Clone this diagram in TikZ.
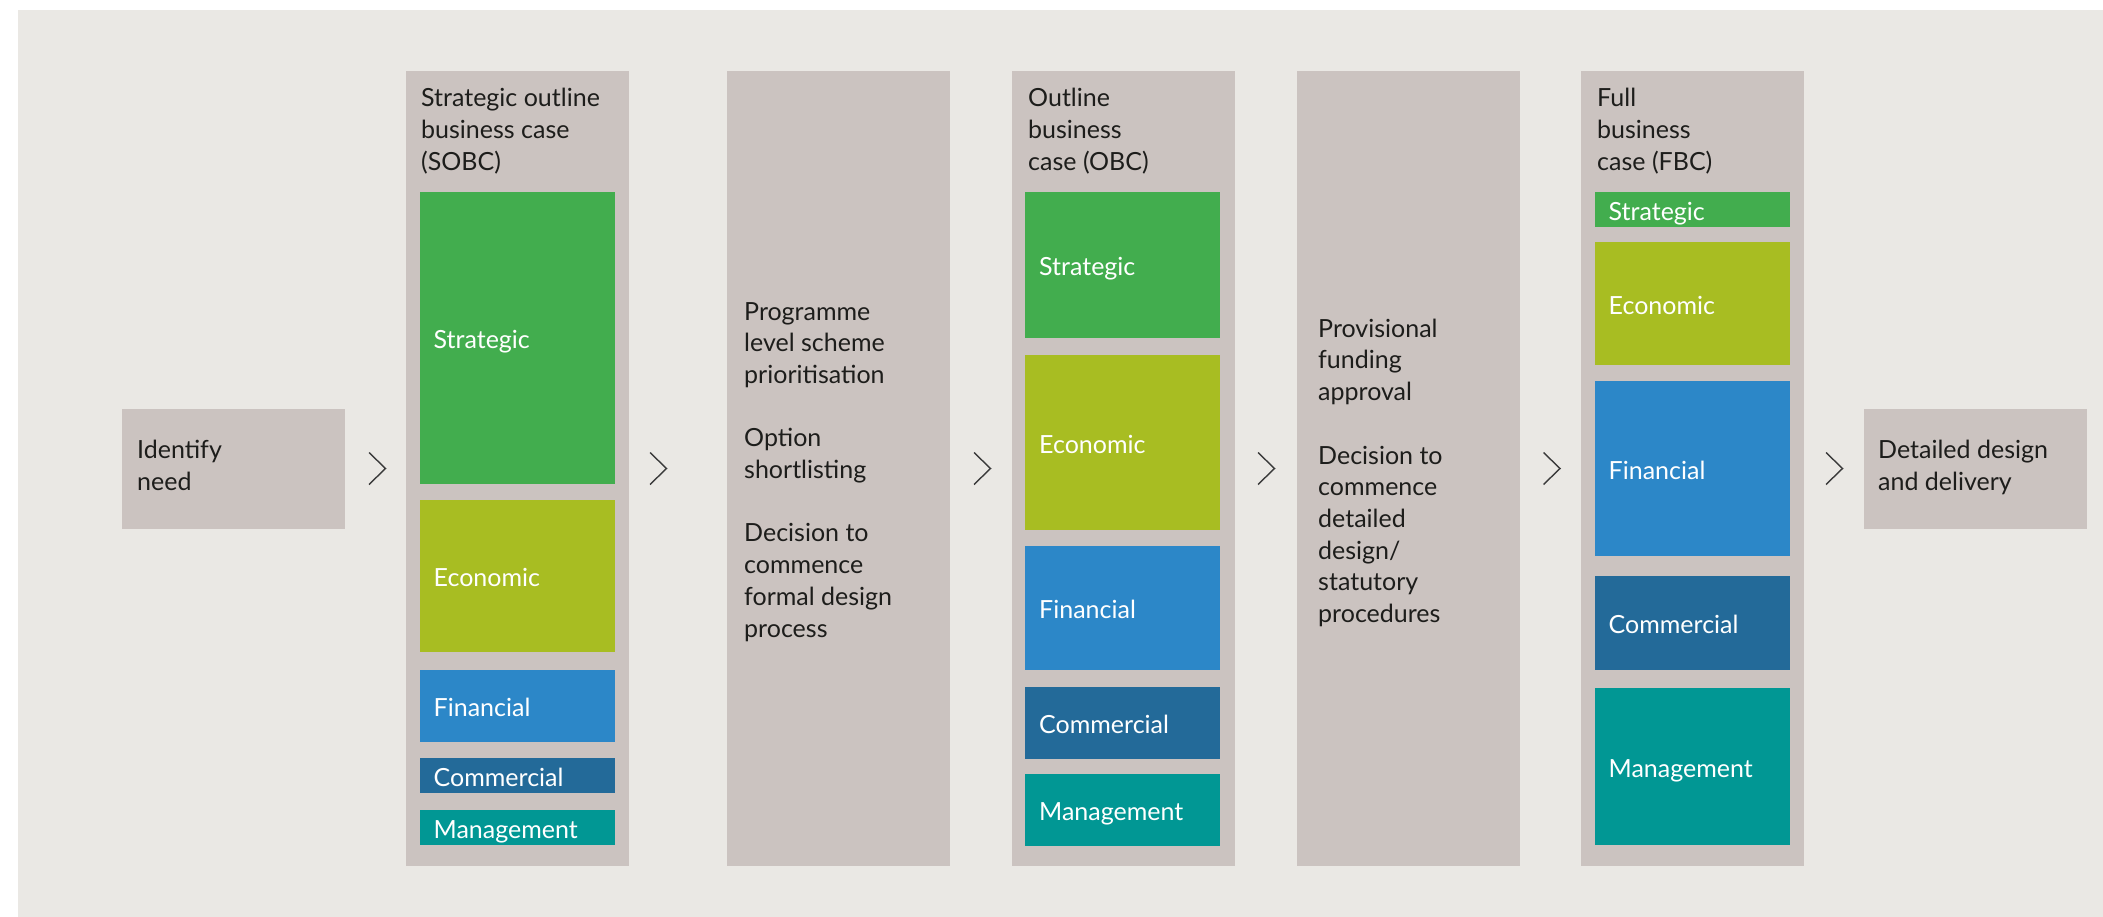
\documentclass[tikz,border=0pt]{standalone}
\usepackage{fontspec}
\setmainfont{Lato}
\definecolor{pagebg}{HTML}{EAE8E4}
\definecolor{colgrey}{HTML}{CBC3C0}
\definecolor{sgreen}{HTML}{42AD4E}
\definecolor{solive}{HTML}{A8BD22}
\definecolor{sblue}{HTML}{2C87C8}
\definecolor{sdblue}{HTML}{236A99}
\definecolor{steal}{HTML}{019794}
\definecolor{ink}{HTML}{1D1D1B}
\definecolor{chevgrey}{HTML}{3A3A3A}
\newcommand\bodyfont{\fontsize{25bp}{31.7bp}\selectfont}
\begin{document}
\begin{tikzpicture}[x=1bp,y=-1bp,
  column/.style={fill=colgrey, draw=none, inner sep=0pt, anchor=north west,
                 minimum width=223bp},
  segment/.style={draw=none, anchor=north west, inner xsep=14bp, inner ysep=0pt,
                  text width=167bp, text height=21bp, text depth=0bp,
                  align=left, text=white, font=\bodyfont},
  label/.style={anchor=base west, inner sep=0pt, align=left, text=ink, font=\bodyfont},
  chev/.style={draw=chevgrey, line width=1.4bp, line join=miter}
]
\useasboundingbox (0,0) rectangle (2103,917);
\fill[pagebg] (18,10) rectangle (2103,917);

% stage boxes and tall columns
\node[column, minimum height=120bp] (need) at (121.5,408.5) {};
\node[column, minimum height=795bp] (sobc) at (406,71) {};
\node[column, minimum height=795bp] (prog) at (727,71) {};
\node[column, minimum height=795bp] (obc)  at (1012,71) {};
\node[column, minimum height=795bp] (prov) at (1297,71) {};
\node[column, minimum height=795bp] (fbc)  at (1581,71) {};
\node[column, minimum height=120bp] (deliv) at (1864,408.5) {};

% texts of the stages (placed by the baseline of their last line)
\node[label] (needtxt) at (137,490) {Identify\\need};
\node[label] (sobctxt) at (421,170) {Strategic outline\\business case\\(SOBC)};
\node[label] (progtxt) at (744,637) {Programme\\level scheme\\prioritisation\\[31.7bp]Option\\shortlisting\\[31.7bp]Decision to\\commence\\formal design\\process};
\node[label] (obctxt) at (1028,170) {Outline\\business\\case (OBC)};
\node[label] (provtxt) at (1318,622.5) {Provisional\\funding\\approval\\[31.7bp]Decision to\\commence\\detailed\\design/\\statutory\\procedures};
\node[label] (fbctxt) at (1597,170) {Full\\business\\case (FBC)};
\node[label] (delivtxt) at (1878,490) {Detailed design\\and delivery};

% five cases of the SOBC
\node[segment, fill=sgreen,  minimum height=292bp] (sobcS) at (419.5,192) {Strategic};
\node[segment, fill=solive,  minimum height=152bp] (sobcE) at (419.5,500) {Economic};
\node[segment, fill=sblue,   minimum height=72bp]  (sobcF) at (419.5,670) {Financial};
\node[segment, fill=sdblue,  minimum height=35bp]  (sobcC) at (419.5,758) {Commercial};
\node[segment, fill=steal,   minimum height=35bp]  (sobcM) at (419.5,810) {Management};

% five cases of the OBC
\node[segment, fill=sgreen,  minimum height=146bp] (obcS) at (1025,192) {Strategic};
\node[segment, fill=solive,  minimum height=175bp] (obcE) at (1025,355) {Economic};
\node[segment, fill=sblue,   minimum height=124bp] (obcF) at (1025,546) {Financial};
\node[segment, fill=sdblue,  minimum height=72bp]  (obcC) at (1025,687) {Commercial};
\node[segment, fill=steal,   minimum height=72bp]  (obcM) at (1025,774) {Management};

% five cases of the FBC
\node[segment, fill=sgreen,  minimum height=35bp]  (fbcS) at (1594.5,192) {Strategic};
\node[segment, fill=solive,  minimum height=123bp] (fbcE) at (1594.5,242) {Economic};
\node[segment, fill=sblue,   minimum height=175bp] (fbcF) at (1594.5,381) {Financial};
\node[segment, fill=sdblue,  minimum height=94bp]  (fbcC) at (1594.5,576) {Commercial};
\node[segment, fill=steal,   minimum height=157bp] (fbcM) at (1594.5,688) {Management};

% chevrons between the stages
\foreach \cx in {369,650,974,1258,1543.5,1826}{
  \draw[chev] (\cx,452.5) -- (\cx+16.5,468.5) -- (\cx,484.5);
}
\end{tikzpicture}
\end{document}
